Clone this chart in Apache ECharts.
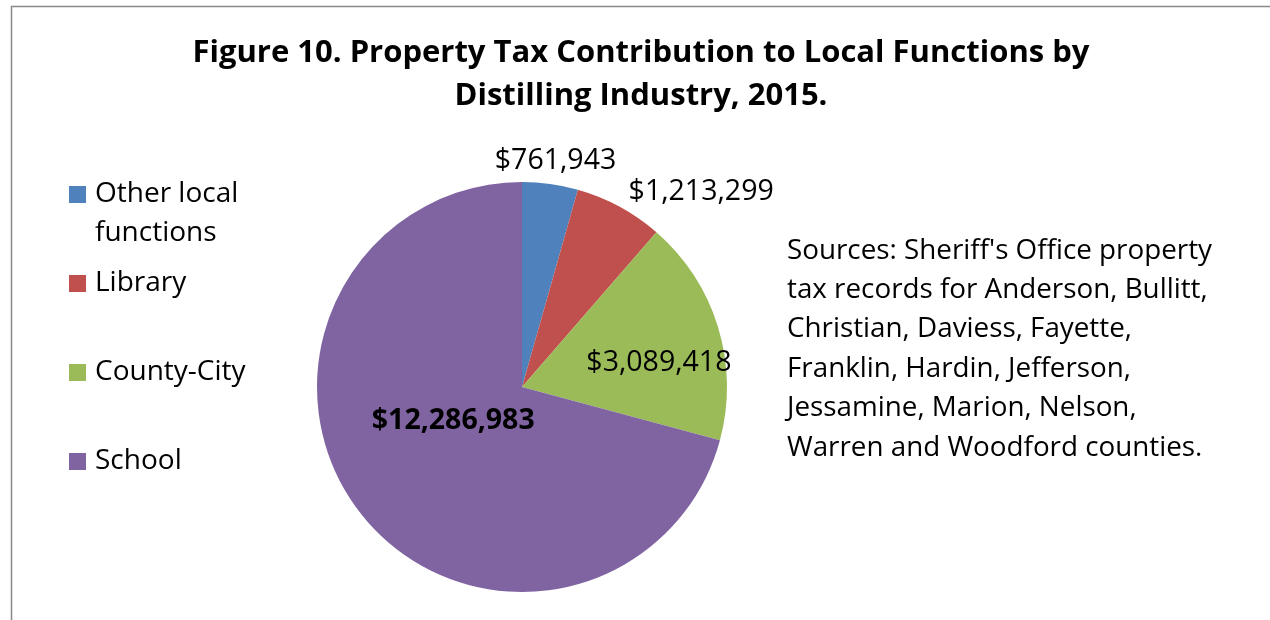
<!DOCTYPE html>
<html>
<head>
<meta charset="utf-8">
<script src="https://cdn.jsdelivr.net/npm/echarts@6/dist/echarts.min.js"></script>
<style>
  html, body { margin: 0; padding: 0; background: #fff; }
  #chart { width: 1270px; height: 620px; }
</style>
</head>
<body>
<div id="chart"></div>
<script>
  // data
  const categories = ['Other local functions', 'Library', 'County-City', 'School'];
  const amounts = [761943, 1213299, 3089418, 12286983];
  const colors = ['#4F81BD', '#C0504D', '#9BBB59', '#8064A2'];
  const sourceLines = [
    "Sources: Sheriff's Office property",
    'tax records for Anderson, Bullitt,',
    'Christian, Daviess, Fayette,',
    'Franklin, Hardin, Jefferson,',
    'Jessamine, Marion, Nelson,',
    'Warren and Woodford counties.'
  ];

  const FONT = 'Open Sans';
  const LH = 39;
  // label nudges from the default inside spot [dx, dy]
  const labelShift = [[19, -122], [129, -102], [36, 7], [15, -30]];
  const legendTops = [175, 264, 353, 442];

  const fmt = v => '$' + v.toLocaleString('en-US');

  const chart = echarts.init(document.getElementById('chart'));

  const legends = categories.map((name, i) => ({
    data: [name],
    orient: 'vertical',
    left: 69,
    top: legendTops[i],
    padding: 0,
    // first entry wraps to two lines: a taller icon box keeps the square level with line one
    icon: i === 0 ? 'path://M0,0H17V17H0Z M0,56' : 'rect',
    itemWidth: 17,
    itemHeight: i === 0 ? 56 : 17,
    selectedMode: false,
    formatter: n => n === 'Other local functions' ? 'Other local\nfunctions' : n,
    textStyle: {
      fontFamily: FONT,
      fontSize: 28,
      color: '#000',
      lineHeight: LH,
      padding: [0, 0, 0, 4]
    }
  }));

  const option = {
    animation: false,
    color: colors,
    title: [
      {
        text: 'Figure 10. Property Tax Contribution to Local Functions by\nDistilling Industry, 2015.',
        left: 636,
        textAlign: 'center',
        top: 27,
        textStyle: {
          fontFamily: FONT,
          fontSize: 31,
          fontWeight: 'bold',
          color: '#000',
          lineHeight: 43
        }
      },
      {
        text: sourceLines.join('\n'),
        left: 782,
        top: 226,
        textStyle: {
          fontFamily: FONT,
          fontSize: 27.8,
          fontWeight: 'normal',
          color: '#000',
          lineHeight: 39.4
        }
      }
    ],
    legend: legends,
    graphic: [
      {
        type: 'rect',
        shape: { x: 11.5, y: 6.5, width: 1400, height: 800 },
        style: { fill: 'none', stroke: '#898989', lineWidth: 1.5 },
        silent: true
      }
    ],
    series: [
      {
        type: 'pie',
        center: [522, 387],
        radius: 205,
        startAngle: 90,
        clockwise: true,
        label: {
          show: true,
          position: 'inside',
          fontFamily: FONT,
          fontSize: 28.5,
          color: '#000',
          formatter: p => fmt(p.value)
        },
        labelLine: { show: false },
        labelLayout: p => ({ dx: labelShift[p.dataIndex][0], dy: labelShift[p.dataIndex][1] }),
        emphasis: { disabled: true },
        itemStyle: { borderWidth: 0 },
        data: categories.map((name, i) => ({
          name: name,
          value: amounts[i],
          label: i === 3 ? { fontWeight: 'bold' } : undefined
        }))
      }
    ]
  };

  chart.setOption(option);
</script>
</body>
</html>
